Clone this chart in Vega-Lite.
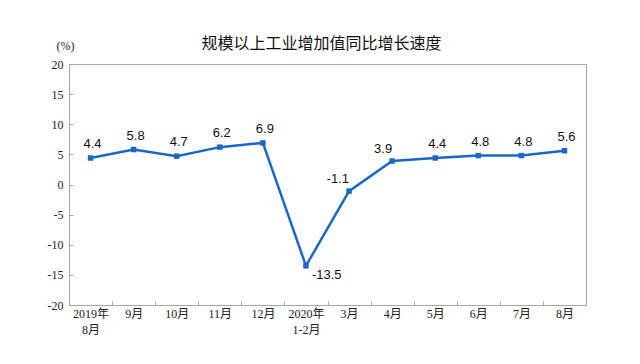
{
  "$schema": "https://vega.github.io/schema/vega-lite/v6.json",
  "autosize": "none",
  "width": 517,
  "height": 241,
  "padding": {"left": 69, "top": 64, "right": 54, "bottom": 59},
  "background": "white",
  "config": {
    "view": {"stroke": "#a6a6a6", "strokeWidth": 1},
    "axis": {"grid": false, "domainColor": "#a6a6a6", "tickColor": "#a6a6a6", "labelColor": "#222", "labelFont": "Liberation Serif, Noto Sans CJK SC", "labelFontSize": 12}
  },
  "title": {
    "text": "规模以上工业增加值同比增长速度",
    "font": "Noto Sans CJK SC",
    "fontSize": 16,
    "fontWeight": "normal",
    "color": "#111",
    "anchor": "middle",
    "dx": -6,
    "offset": -13
  },
  "data": {
    "values": [
      {"m": "2019年\n8月", "v": 4.4, "pos": "top"},
      {"m": "9月", "v": 5.8, "pos": "top"},
      {"m": "10月", "v": 4.7, "pos": "top"},
      {"m": "11月", "v": 6.2, "pos": "top"},
      {"m": "12月", "v": 6.9, "pos": "top"},
      {"m": "2020年\n1-2月", "v": -13.5, "pos": "right"},
      {"m": "3月", "v": -1.1, "pos": "left"},
      {"m": "4月", "v": 3.9, "pos": "left"},
      {"m": "5月", "v": 4.4, "pos": "top"},
      {"m": "6月", "v": 4.8, "pos": "top"},
      {"m": "7月", "v": 4.8, "pos": "top"},
      {"m": "8月", "v": 5.6, "pos": "top"}
    ]
  },
  "encoding": {
    "x": {
      "field": "m", "type": "nominal", "sort": null,
      "scale": {"paddingInner": 0, "paddingOuter": 0},
      "axis": {"title": null, "labelAngle": 0, "labelExpr": "split(datum.label, '\\n')", "labelPadding": 7, "labelLineHeight": 16, "labelBaseline": "top", "tickBand": "extent", "tickSize": -4, "tickOffset": 0}
    },
    "y": {
      "field": "v", "type": "quantitative",
      "scale": {"domain": [-20, 20], "nice": false},
      "axis": {"values": [-20, -15, -10, -5, 0, 5, 10, 15, 20], "labelExpr": "replace(datum.label, '\u2212', '-')", "tickSize": -4, "labelPadding": 10, "title": "(%)", "titleAngle": 0, "titleX": -4, "titleY": -12, "titleAlign": "center", "titleBaseline": "bottom", "titleFont": "Liberation Serif", "titleFontSize": 12, "titleFontWeight": "normal", "titleColor": "#222"}
    }
  },
  "layer": [
    {"mark": {"type": "line", "color": "#1a68c4", "strokeWidth": 2.5}},
    {"mark": {"type": "square", "color": "#1a68c4", "size": 30, "opacity": 1, "filled": true}},
    {
      "transform": [{"filter": "datum.pos == 'top'"}],
      "mark": {"type": "text", "font": "Liberation Sans", "fontSize": 13, "color": "#111", "dy": -7, "dx": 2, "baseline": "bottom"},
      "encoding": {"text": {"field": "v", "type": "nominal"}}
    },
    {
      "transform": [{"filter": "datum.pos == 'left'"}],
      "mark": {"type": "text", "font": "Liberation Sans", "fontSize": 13, "color": "#111", "dy": -5, "dx": 0, "align": "right", "baseline": "bottom"},
      "encoding": {"text": {"field": "v", "type": "nominal"}}
    },
    {
      "transform": [{"filter": "datum.pos == 'right'"}],
      "mark": {"type": "text", "font": "Liberation Sans", "fontSize": 13, "color": "#111", "dy": 3, "dx": 6, "align": "left", "baseline": "top"},
      "encoding": {"text": {"field": "v", "type": "nominal"}}
    }
  ]
}
